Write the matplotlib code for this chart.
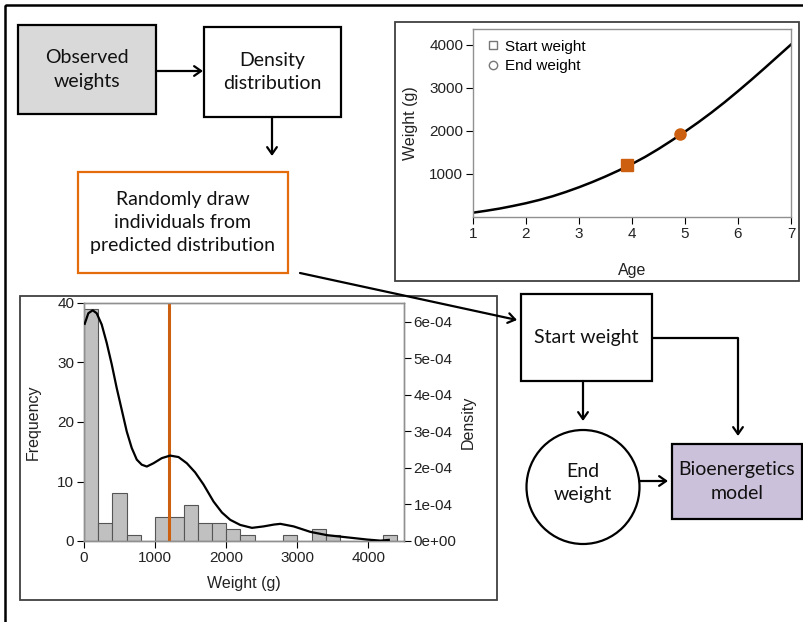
import matplotlib.pyplot as plt
from matplotlib.patches import Rectangle, Ellipse, FancyArrowPatch

W, H = 804, 622

# ===== data =====
age = [1.0, 1.25, 1.5, 1.75, 2.0, 2.25, 2.5, 2.75, 3.0, 3.25, 3.5, 3.75, 4.0,
       4.25, 4.5, 4.75, 5.0, 5.25, 5.5, 5.75, 6.0, 6.25, 6.5, 6.75, 7.0]
weight = [100, 145, 195, 255, 320, 395, 480, 580, 690, 810, 940, 1080, 1230,
          1395, 1578, 1775, 1980, 2195, 2423, 2664, 2918, 3180, 3450, 3725, 4000]
start_pt = (3.9, 1200)
end_pt = (4.9, 1935)

bin_left = [0, 200, 400, 600, 800, 1000, 1200, 1400, 1600, 1800, 2000,
            2200, 2400, 2600, 2800, 3000, 3200, 3400, 3600, 3800, 4000, 4200]
counts = [39, 3, 8, 1, 0, 4, 4, 6, 3, 3, 2, 1, 0, 0, 1, 0, 2, 1, 0, 0, 0, 1]

dens_x = [10, 61, 122, 178, 249, 319, 390, 460, 530, 601, 671, 742, 812, 883,
          977, 1094, 1211, 1329, 1446, 1563, 1680, 1822, 1940, 2056, 2197,
          2362, 2526, 2670, 2761, 2948, 3183, 3418, 3700, 3982, 4169, 4286]
dens_y = [5.95, 6.24, 6.32, 6.24, 5.93, 5.43, 4.84, 4.19, 3.6, 3.0, 2.55, 2.23,
          2.09, 2.04, 2.13, 2.27, 2.34, 2.3, 2.13, 1.88, 1.55, 1.08, 0.78, 0.58,
          0.44, 0.36, 0.4, 0.45, 0.47, 0.4, 0.25, 0.16, 0.1, 0.04, 0.01, 0.03]
dens_y = [d * 1e-4 for d in dens_y]
drawn_weight = 1200

ORANGE = "#cc6010"
CHART_FONT = "Liberation Sans"
BOX_FONT = "Lato"


def px_rect(x0, y0, x1, y1):
    return [x0 / W, 1 - y1 / H, (x1 - x0) / W, (y1 - y0) / H]


def style_axes(ax):
    for sp in ax.spines.values():
        sp.set_color("#909090")
        sp.set_linewidth(1.0)
    ax.tick_params(direction="out", length=5, width=0.8, color="black",
                   labelsize=11, pad=2, labelcolor="#222222")
    for lab in ax.get_xticklabels() + ax.get_yticklabels():
        lab.set_fontfamily(CHART_FONT)


fig = plt.figure(figsize=(W / 100, H / 100), dpi=100)

# ===== growth curve =====
ax1 = fig.add_axes(px_rect(473, 29, 791, 217))
ax1.plot(age, weight, color="black", lw=1.8, zorder=2)
ax1.plot(*start_pt, marker="s", ms=8, color=ORANGE, ls="none", zorder=3)
ax1.plot(*end_pt, marker="o", ms=8, color=ORANGE, ls="none", zorder=3)
ax1.plot([], [], marker="s", ms=6, mfc="none", mec="#777777", ls="none",
         label="Start weight")
ax1.plot([], [], marker="o", ms=6, mfc="none", mec="#777777", ls="none",
         label="End weight")
ax1.set_xlim(1, 7)
ax1.set_ylim(0, 4360)
ax1.set_xticks([1, 2, 3, 4, 5, 6, 7])
ax1.set_yticks([1000, 2000, 3000, 4000])
style_axes(ax1)
ax1.set_xlabel("Age", fontfamily=CHART_FONT, fontsize=11.5, labelpad=16,
               color="#222222")
ax1.set_ylabel("Weight (g)", fontfamily=CHART_FONT, fontsize=11.5, labelpad=8,
               color="#222222")
ax1.legend(loc="upper left", frameon=False, prop={"family": CHART_FONT, "size": 11},
           handletextpad=0.2, borderaxespad=0.3, labelspacing=0.35,
           handlelength=1.2)

# ===== histogram + density =====
ax2 = fig.add_axes(px_rect(84, 303, 404, 541))
ax2.bar(bin_left, counts, width=200, align="edge", color="#c0c0c0",
        edgecolor="#555555", linewidth=0.8, zorder=1)
ax2.set_xlim(0, 4500)
ax2.set_ylim(0, 40)
ax2.set_xticks([0, 1000, 2000, 3000, 4000])
ax2.set_yticks([0, 10, 20, 30, 40])
style_axes(ax2)
ax2.set_xlabel("Weight (g)", fontfamily=CHART_FONT, fontsize=11.5, labelpad=8,
               color="#222222")
ax2.set_ylabel("Frequency", fontfamily=CHART_FONT, fontsize=11.5, labelpad=12,
               color="#222222")

ax3 = ax2.twinx()
ax3.plot(dens_x, dens_y, color="black", lw=1.6, zorder=3)
ax3.axvline(drawn_weight, color=ORANGE, lw=2.2, zorder=2)
ax3.set_ylim(0, 6.52e-4)
dticks = [0, 1e-4, 2e-4, 3e-4, 4e-4, 5e-4, 6e-4]
ax3.set_yticks(dticks)
ax3.set_yticklabels(["0e+00", "1e-04", "2e-04", "3e-04", "4e-04", "5e-04", "6e-04"])
style_axes(ax3)
ax3.set_ylabel("Density", fontfamily=CHART_FONT, fontsize=11.5, labelpad=3,
               color="#222222")

# ===== flow diagram overlay =====
ax0 = fig.add_axes([0, 0, 1, 1])
ax0.set_xlim(0, W)
ax0.set_ylim(H, 0)
ax0.axis("off")
ax0.patch.set_alpha(0)

# outer frame + panel frames
ax0.add_patch(Rectangle((5, 5), 810, 640, fill=False, ec="black", lw=1.8, clip_on=False))
ax0.add_patch(Rectangle((395, 22), 404, 259, fill=False, ec="#404040", lw=1.3))
ax0.add_patch(Rectangle((20, 296), 477, 304, fill=False, ec="#404040", lw=1.3))


def box(x0, y0, x1, y1, text, fc="white", ec="black"):
    ax0.add_patch(Rectangle((x0, y0), x1 - x0, y1 - y0, fc=fc, ec=ec, lw=1.6))
    ax0.text((x0 + x1) / 2, (y0 + y1) / 2, text, ha="center", va="center",
             fontsize=14, fontfamily=BOX_FONT, color="#111111",
             linespacing=1.45)


box(18, 25, 156, 114, "Observed\nweights", fc="#d9d9d9")
box(204, 27, 341, 117, "Density\ndistribution")
box(78, 172, 288, 273, "Randomly draw\nindividuals from\npredicted distribution",
    ec="#e46c0a")
box(521, 294, 652, 381, "Start weight")
box(672, 444, 802, 519, "Bioenergetics\nmodel", fc="#ccc1da")

ax0.add_patch(Ellipse((583, 487), 113, 114, fc="white", ec="black", lw=1.6))
ax0.text(583, 483, "End\nweight", ha="center", va="center", fontsize=14,
         fontfamily=BOX_FONT, color="#111111", linespacing=1.45)


def arrow(points):
    xs = [p[0] for p in points]
    ys = [p[1] for p in points]
    if len(points) > 2:
        ax0.plot(xs[:-1], ys[:-1], color="black", lw=1.6, solid_capstyle="butt")
    ax0.add_patch(FancyArrowPatch(points[-2], points[-1],
                                  arrowstyle="->,head_length=5,head_width=3.5",
                                  color="black", lw=1.6, shrinkA=0, shrinkB=0))


arrow([(156, 71), (203, 71)])
arrow([(272, 117), (272, 156)])
arrow([(300, 273), (517, 320)])
arrow([(652, 338), (738, 338), (738, 436)])
arrow([(583, 381), (583, 421)])
arrow([(640, 481), (668, 481)])

fig.savefig("out.png", dpi=100)
